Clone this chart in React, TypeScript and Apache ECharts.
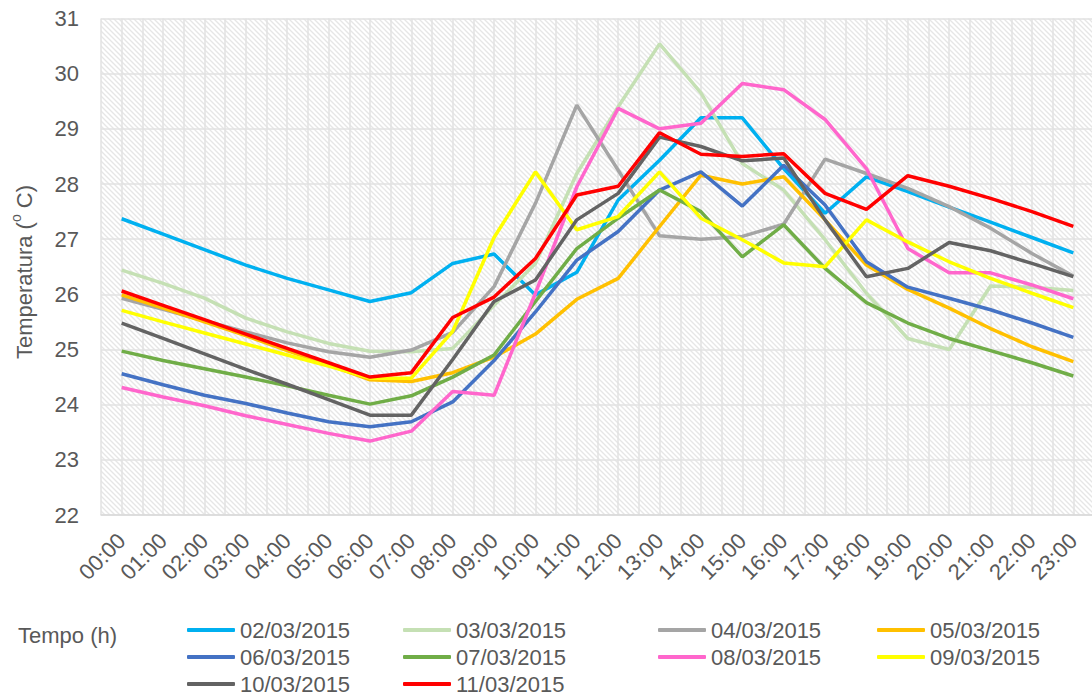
import React, { useEffect, useRef } from "react";
import * as echarts from "echarts";

const hours = [
  "00:00", "01:00", "02:00", "03:00", "04:00", "05:00", "06:00", "07:00",
  "08:00", "09:00", "10:00", "11:00", "12:00", "13:00", "14:00", "15:00",
  "16:00", "17:00", "18:00", "19:00", "20:00", "21:00", "22:00", "23:00",
];

const d0203 = [27.37, 27.09, 26.81, 26.53, 26.29, 26.08, 25.87, 26.03, 26.56, 26.73, 25.99, 26.4, 27.71, 28.43, 29.2, 29.2, 28.28, 27.47, 28.13, 27.86, 27.58, 27.31, 27.03, 26.75];
const d0303 = [26.44, 26.2, 25.93, 25.57, 25.32, 25.11, 24.97, 24.96, 25.02, 25.8, 26.56, 28.19, 29.4, 30.54, 29.65, 28.37, 27.89, 26.99, 26.02, 25.2, 25.0, 26.15, 26.13, 26.07];
const d0403 = [25.93, 25.73, 25.52, 25.32, 25.12, 24.96, 24.86, 24.99, 25.31, 26.14, 27.65, 29.43, 28.25, 27.06, 27.0, 27.05, 27.27, 28.45, 28.19, 27.92, 27.59, 27.2, 26.74, 26.33];
const d0503 = [25.99, 25.75, 25.5, 25.25, 24.98, 24.72, 24.45, 24.42, 24.58, 24.86, 25.28, 25.91, 26.29, 27.23, 28.16, 28.0, 28.13, 27.35, 26.53, 26.09, 25.75, 25.38, 25.05, 24.78];
const d0603 = [24.56, 24.36, 24.17, 24.02, 23.85, 23.69, 23.6, 23.69, 24.05, 24.8, 25.68, 26.62, 27.14, 27.89, 28.22, 27.6, 28.34, 27.62, 26.59, 26.13, 25.93, 25.72, 25.48, 25.22];
const d0703 = [24.97, 24.8, 24.65, 24.5, 24.34, 24.17, 24.01, 24.16, 24.5, 24.9, 25.87, 26.83, 27.38, 27.89, 27.5, 26.68, 27.26, 26.47, 25.85, 25.48, 25.2, 24.98, 24.76, 24.52];
const d0803 = [24.31, 24.14, 23.98, 23.8, 23.64, 23.48, 23.34, 23.52, 24.24, 24.17, 26.02, 27.95, 29.37, 29.0, 29.1, 29.82, 29.71, 29.17, 28.28, 26.83, 26.39, 26.39, 26.17, 25.92];
const d0903 = [25.71, 25.5, 25.3, 25.1, 24.9, 24.7, 24.48, 24.48, 25.33, 27.03, 28.22, 27.17, 27.41, 28.22, 27.38, 26.99, 26.57, 26.5, 27.35, 26.95, 26.59, 26.29, 26.02, 25.76];
const d1003 = [25.48, 25.2, 24.92, 24.64, 24.37, 24.09, 23.81, 23.81, 24.82, 25.87, 26.26, 27.35, 27.83, 28.85, 28.68, 28.42, 28.47, 27.35, 26.32, 26.47, 26.94, 26.79, 26.56, 26.32];
const d1103 = [26.06, 25.8, 25.54, 25.28, 25.02, 24.76, 24.5, 24.58, 25.58, 25.95, 26.65, 27.8, 27.96, 28.93, 28.54, 28.5, 28.55, 27.83, 27.54, 28.15, 27.96, 27.74, 27.5, 27.23];

const seriesNames = [
  "02/03/2015", "03/03/2015", "04/03/2015", "05/03/2015", "06/03/2015",
  "07/03/2015", "08/03/2015", "09/03/2015", "10/03/2015", "11/03/2015",
];
const seriesData = [d0203, d0303, d0403, d0503, d0603, d0703, d0803, d0903, d1003, d1103];
const seriesColors = [
  "#00B0F0", "#C5E0B4", "#A5A5A5", "#FFC000", "#4472C4",
  "#70AD47", "#FF66CC", "#FFFF00", "#636363", "#FF0000",
];

const yMin = 22;
const yMax = 31;
const yStep = 1;

const legendColumns = [
  ["02/03/2015", "06/03/2015", "10/03/2015"],
  ["03/03/2015", "07/03/2015", "11/03/2015"],
  ["04/03/2015", "08/03/2015"],
  ["05/03/2015", "09/03/2015"],
];
const legendLefts = [187, 403, 658, 877];

const FONT = "'Liberation Sans', Arial, sans-serif";
const TEXT = "#595959";
const GRID = "#e2e2e2";

const hatch =
  "data:image/svg+xml;utf8," +
  encodeURIComponent(
    "<svg xmlns='http://www.w3.org/2000/svg' width='5' height='5'>" +
      "<rect width='5' height='5' fill='#ffffff'/>" +
      "<path d='M-1,-1 L6,6 M-1,4 L1,6 M4,-1 L6,1' stroke='#e6e6e6' stroke-width='1.3'/>" +
      "</svg>"
  );

export default function App() {
  const ref = useRef<HTMLDivElement>(null);

  useEffect(() => {
    if (!ref.current) return;
    const chart = echarts.init(ref.current, null, { renderer: "svg" });
    const option: any = {
      animation: false,
      backgroundColor: "#ffffff",
      textStyle: { fontFamily: FONT },
      grid: {
        left: 101,
        top: 18.5,
        width: 993,
        height: 496.5,
        show: true,
        borderWidth: 0,
        backgroundColor: { image: hatch, repeat: "repeat", imageWidth: 5, imageHeight: 5 },
        containLabel: false,
        outerBoundsMode: "none",
      },
      xAxis: [
        {
          type: "category",
          data: hours,
          boundaryGap: true,
          axisTick: { show: false },
          axisLine: { show: true, lineStyle: { color: "#d9d9d9", width: 1.5 } },
          axisLabel: {
            rotate: 45,
            interval: 0,
            margin: 22,
            fontSize: 22,
            color: TEXT,
            fontFamily: FONT,
          },
          splitLine: { show: false },
          z: 3,
        },
        {
          type: "value",
          min: -0.5,
          max: 23.5,
          interval: 0.5,
          position: "bottom",
          axisLabel: { show: false },
          axisLine: { show: false },
          axisTick: { show: false },
          splitLine: { show: true, lineStyle: { color: GRID, width: 1.5 } },
        },
      ],
      yAxis: {
        type: "value",
        min: yMin,
        max: yMax,
        interval: yStep,
        axisLine: { show: false },
        axisTick: { show: false },
        axisLabel: { fontSize: 22, color: TEXT, margin: 22, fontFamily: FONT },
        splitLine: { show: true, lineStyle: { color: GRID, width: 1.5 } },
      },
      legend: legendColumns.map((col, i) => ({
        orient: "vertical",
        left: legendLefts[i],
        top: 619,
        data: col,
        icon: "roundRect",
        itemWidth: 48,
        itemHeight: 4,
        itemGap: 5,
        padding: 0,
        textStyle: { fontSize: 22, color: TEXT, fontFamily: FONT, lineHeight: 22 },
        selectedMode: false,
      })),
      graphic: [
        {
          type: "text",
          left: 18,
          top: 624,
          style: { text: "Tempo (h)", fontSize: 22, fill: TEXT, fontFamily: FONT },
        },
        {
          type: "text",
          x: 22,
          y: 272,
          rotation: Math.PI / 2,
          style: {
            text: "{a|Temperatura (}{s|o}{a| C)}",
            align: "center",
            verticalAlign: "middle",
            rich: {
              a: { fontSize: 22, fill: TEXT, fontFamily: FONT, lineHeight: 26, verticalAlign: "bottom" },
              s: { fontSize: 14, fill: TEXT, fontFamily: FONT, lineHeight: 26, verticalAlign: "top" },
            },
          },
        },
      ],
      series: seriesNames.map((name, i) => ({
        name,
        type: "line",
        xAxisIndex: 0,
        data: seriesData[i],
        symbol: "none",
        showSymbol: false,
        lineStyle: { color: seriesColors[i], width: 3.5 },
        itemStyle: { color: seriesColors[i] },
        z: 2 + i * 0.01,
      })),
    };
    chart.setOption(option);
    return () => chart.dispose();
  }, []);

  return (
    <div
      ref={ref}
      style={{ position: "absolute", left: 0, top: 0, width: 1092, height: 698 }}
    />
  );
}
